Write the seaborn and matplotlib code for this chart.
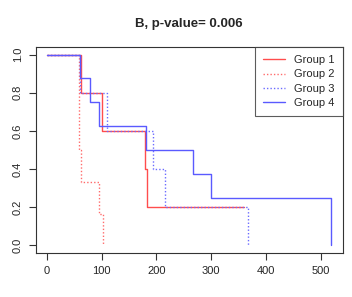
import pandas as pd
import seaborn as sns
import matplotlib.pyplot as plt

# survival step curves
g1_time = [0, 62, 100, 180, 182, 360]
g1_surv = [1.0, 0.8, 0.6, 0.4, 0.2, 0.2]
g2_time = [0, 58, 62, 96, 102]
g2_surv = [1.0, 0.5, 0.333, 0.167, 0.0]
g3_time = [0, 60, 110, 193, 216, 367]
g3_surv = [1.0, 0.8, 0.6, 0.4, 0.2, 0.0]
g4_time = [0, 61, 79, 96, 181, 267, 300, 519]
g4_surv = [1.0, 0.875, 0.75, 0.625, 0.5, 0.375, 0.25, 0.0]

groups = ["Group 1", "Group 2", "Group 3", "Group 4"]
x_ticks = [0, 100, 200, 300, 400, 500]
y_ticks = [0.0, 0.2, 0.4, 0.6, 0.8, 1.0]

frames = []
for name, t, s in zip(groups, [g1_time, g2_time, g3_time, g4_time],
                      [g1_surv, g2_surv, g3_surv, g4_surv]):
    frames.append(pd.DataFrame({"time": t, "surv": s, "group": name}))
df = pd.concat(frames, ignore_index=True)

sns.set_style("ticks")
plt.rcParams["font.family"] = ["Liberation Sans", "DejaVu Sans"]

colors = {"Group 1": "#ff4d4d", "Group 2": "#ff6b6b", "Group 3": "#6b6bff", "Group 4": "#5a5aff"}
styles = {"Group 1": "-", "Group 2": (0, (1, 1.5)), "Group 3": (0, (1, 1.5)), "Group 4": "-"}

fig = plt.figure(figsize=(3.52, 2.97), dpi=100)
ax = fig.add_axes([0.101, 0.148, 0.873, 0.694])

for name in groups:
    sub = df[df["group"] == name]
    sns.lineplot(data=sub, x="time", y="surv", ax=ax, drawstyle="steps-post",
                 estimator=None, sort=False, color=colors[name],
                 linestyle=styles[name], linewidth=1.0, label=name)

ax.set_xlim(-20.8, 540.8)
ax.set_ylim(-0.04, 1.04)
ax.set_xticks(x_ticks)
ax.set_yticks(y_ticks)
ax.set_yticklabels([f"{v:.1f}" for v in y_ticks], rotation=90, va="center")
ax.set_xlabel("")
ax.set_ylabel("")
ax.tick_params(labelsize=8, length=5, width=0.8, color="#333333", pad=4)
for sp in ax.spines.values():
    sp.set_visible(True)
    sp.set_linewidth(0.8)
    sp.set_color("#333333")

ax.set_title("B, p-value= 0.006", fontsize=9.5, fontweight="bold", pad=14)

leg = ax.legend(loc="upper right", fontsize=8, frameon=True, fancybox=False,
                borderaxespad=0, handlelength=2.0, labelspacing=0.38,
                borderpad=0.75, handletextpad=0.8)
leg.get_frame().set_edgecolor("#333333")
leg.get_frame().set_linewidth(0.8)

fig.savefig("out.png", dpi=100)
